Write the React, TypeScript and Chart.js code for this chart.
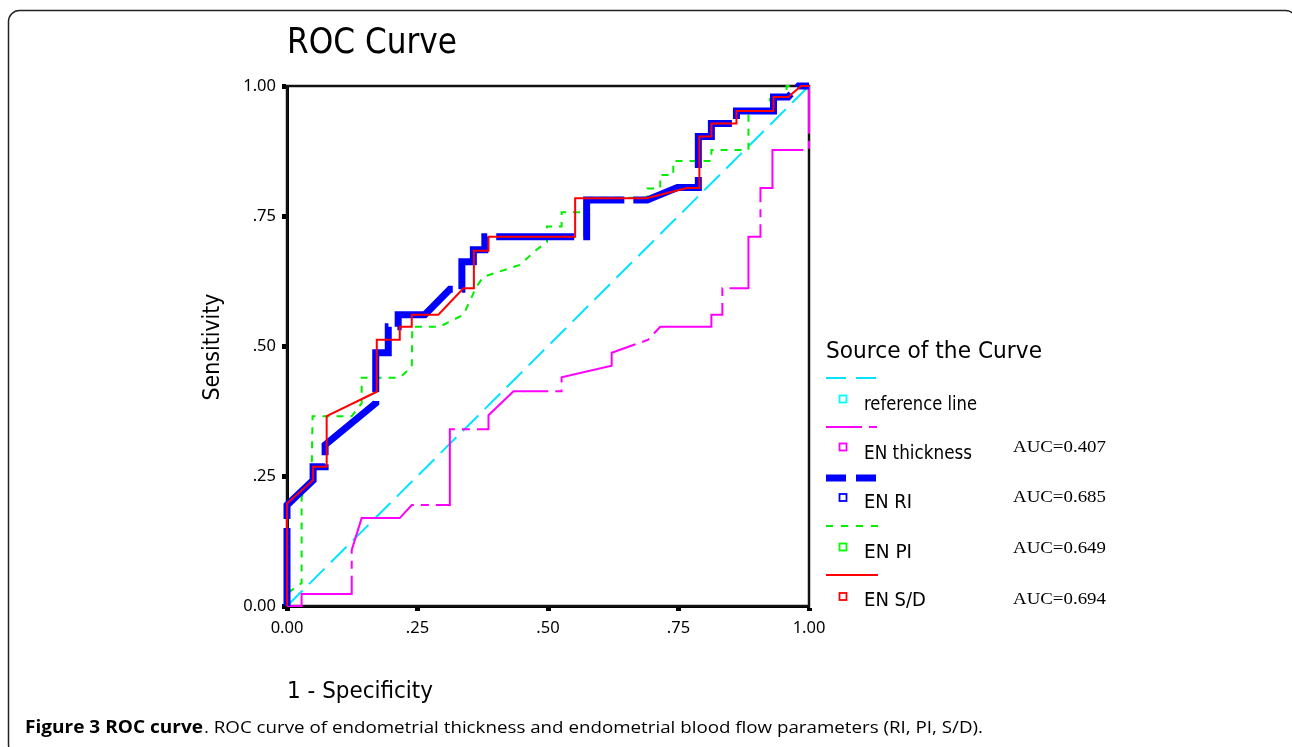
import React, { useEffect, useRef } from 'react';
import { Chart, registerables } from 'chart.js';

Chart.register(...registerables);

// ---------- data ----------
const xTickLabels = ['0.00', '.25', '.50', '.75', '1.00'];
const yTickLabels = ['0.00', '.25', '.50', '.75', '1.00'];

const legendNames = ['reference line', 'EN thickness', 'EN RI', 'EN PI', 'EN S/D'];
const aucValues: (number | null)[] = [null, 0.407, 0.685, 0.649, 0.694];

const refX = [0, 1];
const refY = [0, 1];

const thickX = [0, 0.028, 0.028, 0.124, 0.124, 0.143, 0.216, 0.239, 0.312, 0.312, 0.386, 0.386, 0.434, 0.526, 0.526, 0.622, 0.622, 0.692, 0.715, 0.813, 0.813, 0.834, 0.834, 0.884, 0.884, 0.907, 0.907, 0.93, 0.93, 1, 1];
const thickY = [0, 0, 0.023, 0.023, 0.108, 0.169, 0.169, 0.194, 0.194, 0.34, 0.34, 0.367, 0.413, 0.413, 0.44, 0.462, 0.487, 0.512, 0.537, 0.537, 0.56, 0.56, 0.611, 0.611, 0.71, 0.71, 0.804, 0.804, 0.877, 0.877, 1];

const riX = [0, 0, 0.05, 0.05, 0.073, 0.073, 0.17, 0.17, 0.194, 0.194, 0.213, 0.213, 0.264, 0.312, 0.335, 0.335, 0.357, 0.357, 0.379, 0.379, 0.574, 0.574, 0.69, 0.748, 0.788, 0.788, 0.813, 0.813, 0.861, 0.861, 0.932, 0.932, 0.96, 0.98, 1];
const riY = [0, 0.194, 0.242, 0.268, 0.268, 0.31, 0.39, 0.487, 0.487, 0.537, 0.537, 0.56, 0.56, 0.609, 0.609, 0.662, 0.662, 0.685, 0.685, 0.71, 0.71, 0.781, 0.781, 0.805, 0.805, 0.903, 0.903, 0.928, 0.928, 0.952, 0.952, 0.979, 0.979, 1, 1];

const piX = [0, 0, 0.028, 0.028, 0.047, 0.049, 0.124, 0.143, 0.143, 0.216, 0.239, 0.24, 0.292, 0.338, 0.363, 0.376, 0.446, 0.478, 0.498, 0.498, 0.526, 0.526, 0.577, 0.577, 0.69, 0.69, 0.715, 0.715, 0.74, 0.74, 0.813, 0.813, 0.884, 0.884, 0.925, 0.925, 0.957, 0.957, 1];
const piY = [0, 0.024, 0.044, 0.21, 0.242, 0.365, 0.365, 0.39, 0.439, 0.439, 0.46, 0.537, 0.537, 0.56, 0.614, 0.633, 0.656, 0.685, 0.7, 0.73, 0.73, 0.757, 0.757, 0.785, 0.785, 0.803, 0.803, 0.829, 0.829, 0.856, 0.856, 0.877, 0.877, 0.952, 0.952, 0.975, 0.975, 1, 1];

const sdX = [0, 0, 0.05, 0.05, 0.076, 0.076, 0.172, 0.172, 0.216, 0.216, 0.239, 0.239, 0.29, 0.338, 0.358, 0.358, 0.386, 0.386, 0.552, 0.552, 0.689, 0.766, 0.79, 0.79, 0.813, 0.813, 0.861, 0.861, 0.932, 0.932, 0.96, 0.985, 1];
const sdY = [0, 0.197, 0.242, 0.268, 0.268, 0.365, 0.412, 0.512, 0.512, 0.537, 0.537, 0.56, 0.56, 0.611, 0.611, 0.683, 0.683, 0.71, 0.71, 0.784, 0.784, 0.804, 0.804, 0.903, 0.903, 0.928, 0.928, 0.952, 0.952, 0.979, 0.979, 1, 1];

// ---------- styles (legend order) ----------
const seriesColors = ['#00e5ff', '#ff00ff', '#0000ff', '#00ee00', '#ff0000'];
const squareColors = ['#00ffff', '#ff00ff', '#0000ff', '#00ff00', '#ff0000'];
const seriesWidths = [2, 2, 7, 2, 2];
const plotDashes: number[][] = [[22, 9], [95, 7, 8, 7], [78, 9], [7, 7], []];
const legendDashes = ['20 10', '36 7 8 7', '20 10', '7 8', ''];
const drawOrder = [4, 3, 1, 2, 0];

const legendLineY = [378, 427, 478, 526, 575];
const legendSquareY = [399, 447, 497.5, 547, 596.5];
const legendTextY = [410, 459, 508, 558, 606];
const legendTextW = [113, 108, 48, 48, 62];
const aucTextY = [0, 452, 502, 553, 604];

const zip = (xs: number[], ys: number[]) => xs.map((x, i) => ({ x, y: ys[i] }));
const seriesData = [zip(refX, refY), zip(thickX, thickY), zip(riX, riY), zip(piX, piY), zip(sdX, sdY)];

const W = 1292;
const H = 747;
const AREA = { left: 287, right: 809, top: 86, bottom: 606 };

export default function App() {
  const canvasRef = useRef<HTMLCanvasElement>(null);

  useEffect(() => {
    const canvas = canvasRef.current;
    if (!canvas) return;

    const boxPlugin = {
      id: 'plotBox',
      beforeDatasetsDraw(chart: any) {
        const { ctx, chartArea: a } = chart;
        ctx.save();
        ctx.strokeStyle = '#111';
        ctx.lineWidth = 2.5;
        ctx.strokeRect(a.left, a.top, a.right - a.left, a.bottom - a.top);
        ctx.restore();
      },
    };

    const datasets = legendNames.map((name, i) => ({
      label: name,
      data: seriesData[i],
      borderColor: seriesColors[i],
      borderWidth: seriesWidths[i],
      borderDash: plotDashes[i],
      borderCapStyle: 'butt' as const,
      borderJoinStyle: 'miter' as const,
      pointRadius: 0,
      pointHoverRadius: 0,
      tension: 0,
      fill: false,
      clip: false as any,
      order: drawOrder[i],
    }));

    const tickFont = { family: 'Noto Sans', size: 16.5 };

    const chart = new Chart(canvas, {
      type: 'line',
      data: { datasets },
      options: {
        responsive: false,
        animation: false,
        devicePixelRatio: 1,
        events: [],
        layout: {
          padding: {
            left: AREA.left - 60,
            right: W - AREA.right,
            top: AREA.top,
            bottom: H - AREA.bottom - 40,
          },
        },
        plugins: {
          legend: { display: false },
          tooltip: { enabled: false },
          title: { display: false },
        },
        scales: {
          x: {
            type: 'linear',
            min: 0,
            max: 1,
            afterFit: (s: any) => {
              s.height = 40;
            },
            ticks: {
              stepSize: 0.25,
              autoSkip: false,
              maxRotation: 0,
              padding: 7,
              color: '#000',
              font: tickFont,
              callback: (_v: any, idx: number) => xTickLabels[idx],
            },
            grid: {
              display: true,
              drawOnChartArea: false,
              drawTicks: true,
              tickLength: 5,
              tickWidth: 5,
              color: '#000',
            },
            border: { display: true, color: '#000', width: 3 },
          },
          y: {
            type: 'linear',
            min: 0,
            max: 1,
            afterFit: (s: any) => {
              s.width = 60;
            },
            ticks: {
              stepSize: 0.25,
              autoSkip: false,
              padding: 6,
              color: '#000',
              font: tickFont,
              callback: (_v: any, idx: number) => yTickLabels[idx],
            },
            grid: {
              display: true,
              drawOnChartArea: false,
              drawTicks: true,
              tickLength: 5,
              tickWidth: 5,
              color: '#000',
            },
            border: { display: true, color: '#000', width: 3 },
          },
        },
      },
      plugins: [boxPlugin],
    });

    return () => chart.destroy();
  }, []);

  const sans = 'DejaVu Sans, Verdana, sans-serif';

  return (
    <div style={{ position: 'absolute', left: 0, top: 0, width: W, height: H, overflow: 'hidden', background: '#fff' }}>
      <canvas ref={canvasRef} width={W} height={H} style={{ position: 'absolute', left: 0, top: 0, width: W, height: H }} />
      <svg width={W} height={H} style={{ position: 'absolute', left: 0, top: 0, pointerEvents: 'none' }}>
        <rect x={8.5} y={10.5} width={1288} height={745} rx={11} ry={11} fill="none" stroke="#222" strokeWidth={1.5} />
        <text x={287} y={53} fontFamily={sans} fontSize={35} fill="#000" textLength={170} lengthAdjust="spacingAndGlyphs">ROC Curve</text>
        <text transform="translate(219,347) rotate(-90)" textAnchor="middle" fontFamily={sans} fontSize={23} fill="#000" textLength={107} lengthAdjust="spacingAndGlyphs">Sensitivity</text>
        <text x={287} y={698} fontFamily={sans} fontSize={23} fill="#000" textLength={146} lengthAdjust="spacingAndGlyphs">1 - Specificity</text>

        <text x={826} y={358} fontFamily={sans} fontSize={23} fill="#000" textLength={216} lengthAdjust="spacingAndGlyphs">Source of the Curve</text>
        {legendNames.map((name, i) => (
          <g key={name}>
            <line x1={826} x2={878} y1={legendLineY[i]} y2={legendLineY[i]} stroke={seriesColors[i]} strokeWidth={seriesWidths[i]} strokeDasharray={legendDashes[i] || undefined} />
            <rect x={839.5} y={legendSquareY[i] - 3.5} width={7} height={7} fill="none" stroke={squareColors[i]} strokeWidth={1.8} />
            <text x={864} y={legendTextY[i]} fontFamily={sans} fontSize={19.5} fill="#000" textLength={legendTextW[i]} lengthAdjust="spacingAndGlyphs">{name}</text>
            {aucValues[i] !== null && (
              <text x={1013} y={aucTextY[i]} fontFamily="Liberation Serif, Times New Roman, serif" fontSize={16} fill="#000" textLength={93} lengthAdjust="spacingAndGlyphs">{`AUC=${(aucValues[i] as number).toFixed(3)}`}</text>
            )}
          </g>
        ))}

        <text x={25} y={733} fontFamily="Open Sans, Noto Sans, sans-serif" fontSize={17} fontWeight={700} fill="#000" textLength={178} lengthAdjust="spacingAndGlyphs">Figure 3 ROC curve</text>
        <text x={204} y={733} fontFamily="Open Sans, Noto Sans, sans-serif" fontSize={17} fill="#000" textLength={779} lengthAdjust="spacingAndGlyphs">. ROC curve of endometrial thickness and endometrial blood flow parameters (RI, PI, S/D).</text>
      </svg>
    </div>
  );
}
